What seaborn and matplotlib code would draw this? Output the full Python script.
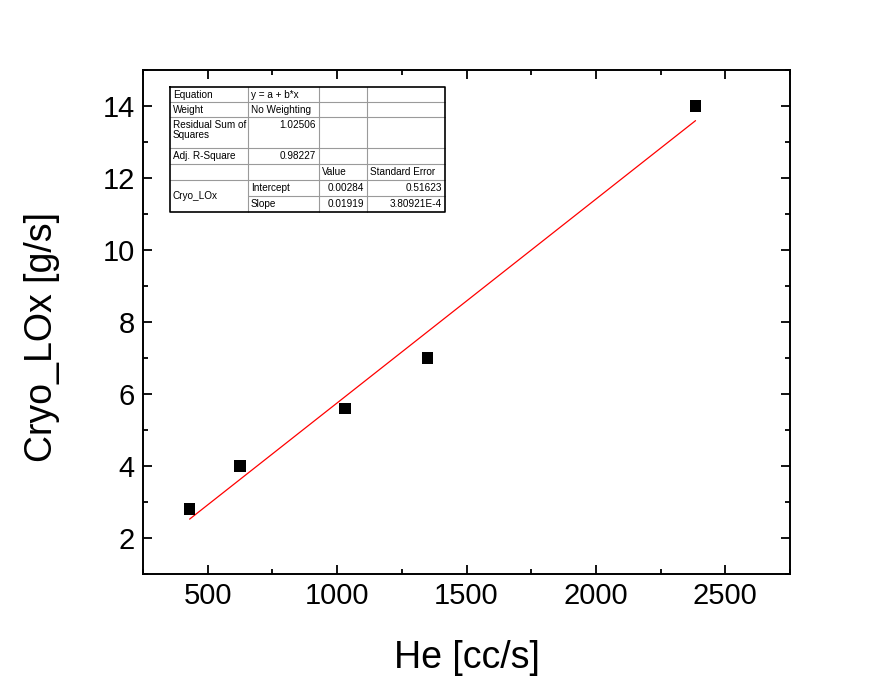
import numpy as np
import pandas as pd
import matplotlib
matplotlib.use("Agg")
import matplotlib.pyplot as plt
from matplotlib.ticker import MultipleLocator
import seaborn as sns

# data
he_flow = [430, 625, 1030, 1350, 2385]      # He [cc/s]
lox_flow = [2.8, 4.0, 5.6, 7.0, 14.0]      # Cryo_LOx [g/s]

# fit table text (as printed on the chart)
table_rows = [
    ["Equation", "y = a + b*x", "", ""],
    ["Weight", "No Weighting", "", ""],
    ["Residual Sum of\nSquares", "1.02506", "", ""],
    ["Adj. R-Square", "0.98227", "", ""],
    ["", "", "Value", "Standard Error"],
    ["Cryo_LOx", "Intercept", "0.00284", "0.51623"],
    ["", "Slope", "0.01919", "3.80921E-4"],
]

sns.set_style("ticks")
plt.rcParams["font.family"] = ["Liberation Sans", "DejaVu Sans"]
for k in ["text.color", "axes.labelcolor", "xtick.color", "ytick.color", "axes.edgecolor"]:
    plt.rcParams[k] = "black"

df = pd.DataFrame({"he": he_flow, "lox": lox_flow})

# linear fit line over the data range
b, a = np.polyfit(df["he"], df["lox"], 1)
fit = pd.DataFrame({"he": [df["he"].min(), df["he"].max()]})
fit["lox"] = a + b * fit["he"]

W, H = 887, 694
fig = plt.figure(figsize=(W / 100, H / 100), dpi=100)
ax = fig.add_axes([143 / W, (H - 574) / H, 647 / W, 504 / H])

sns.lineplot(data=fit, x="he", y="lox", color="red", linewidth=0.9, ax=ax, zorder=2)
sns.scatterplot(data=df, x="he", y="lox", marker="s", color="black", s=70,
                edgecolor="none", ax=ax, zorder=3)

ax.set_xlim(250, 2750)
ax.set_ylim(1, 15)
ax.xaxis.set_major_locator(MultipleLocator(500))
ax.xaxis.set_minor_locator(MultipleLocator(250))
ax.yaxis.set_major_locator(MultipleLocator(2))
ax.yaxis.set_minor_locator(MultipleLocator(1))
ax.tick_params(which="both", direction="in", top=True, right=True, width=1.3,
               labelsize=21, pad=6)
ax.tick_params(which="major", length=6.5)
ax.tick_params(which="minor", length=3.5)
for s in ax.spines.values():
    s.set_linewidth(1.4)
    s.set_visible(True)

ax.set_xlabel("He [cc/s]", fontsize=27, labelpad=21)
ax.set_ylabel("Cryo_LOx [g/s]", fontsize=27)
ax.yaxis.set_label_coords(-0.128, 0.47)

# ---- fit results table, drawn in pixel coords ----
tab = fig.add_axes([0, 0, 1, 1], zorder=5)
tab.set_xlim(0, W)
tab.set_ylim(H, 0)
tab.axis("off")

cols = [170, 248, 319, 367, 445]
rows = [87, 102, 117, 148, 164, 180, 196, 212]
grid = "#9a9a9a"
# inner horizontal lines
for i, y in enumerate(rows[1:-1], start=1):
    x0 = cols[1] if i == 6 else cols[0]
    tab.plot([x0, cols[-1]], [y, y], color=grid, lw=0.8)
# inner vertical lines
for x in cols[1:-1]:
    tab.plot([x, x], [rows[0], rows[-1]], color=grid, lw=0.8)
# outer border
tab.plot([cols[0], cols[-1], cols[-1], cols[0], cols[0]],
         [rows[0], rows[0], rows[-1], rows[-1], rows[0]], color="black", lw=1.2)

fs = 7.2
for r, row in enumerate(table_rows):
    for c, txt in enumerate(row):
        if not txt:
            continue
        top = rows[r]
        if r == 5 and c == 0:
            tab.text(cols[0] + 3, (rows[5] + rows[7]) / 2, txt, fontsize=fs,
                     ha="left", va="center")
            continue
        right_align = (c >= 1 and r in (2, 3)) or (c >= 2 and r >= 5)
        if right_align:
            tab.text(cols[c + 1] - 3, top + 2.5, txt, fontsize=fs, ha="right", va="top",
                     linespacing=1.0)
        else:
            tab.text(cols[c] + 3, top + 2.5, txt, fontsize=fs, ha="left", va="top",
                     linespacing=1.0)

fig.savefig("out.png", dpi=100)
